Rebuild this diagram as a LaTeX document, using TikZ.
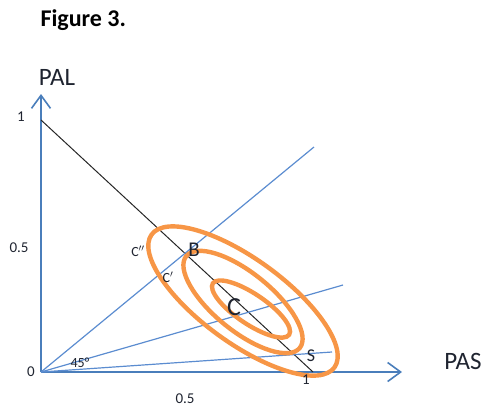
\documentclass[tikz,border=0pt]{standalone}
\usepackage{fontspec}
\setmainfont{Carlito}
\usetikzlibrary{arrows.meta}
\definecolor{axisblue}{HTML}{4A7EBB}
\definecolor{rayblue}{HTML}{5B8CD0}
\definecolor{ring}{HTML}{F79646}
\definecolor{ink}{HTML}{1F2430}

\begin{document}
\begin{tikzpicture}[
  x=1pt,y=-1pt,
  axis/.style={draw=axisblue,line width=1.8pt,-{Straight Barb[length=13pt,width=19pt,line width=1.6pt]}},
  ray/.style={draw=rayblue,line width=1.2pt},
  budget/.style={draw=black!85,line width=1pt},
  contour/.style={draw=ring,line width=4.4pt},
  tick/.style={font=\fontsize{15}{15}\selectfont,text=ink},
  pt/.style={font=\fontsize{14}{14}\selectfont,text=ink}
]
\useasboundingbox (0,0) rectangle (484,408);

% axes
\coordinate (O) at (41,372);
\coordinate (ytip) at (41,94);
\coordinate (xtip) at (402,372);
\draw[axis] (O) -- (ytip);
\draw[axis] (O) -- (xtip);

% budget line and rays from the origin
\coordinate (top) at (41,120);
\coordinate (bot) at (313,372);
\coordinate (r45) at (314,147);
\coordinate (rmid) at (343,285);
\coordinate (rlow) at (332,352);
\draw[budget] (top) -- (bot);
\draw[ray] (O) -- (r45);
\draw[ray] (O) -- (rmid);
\draw[ray] (O) -- (rlow);

% indifference contours
\coordinate (e1) at (243,301);
\coordinate (e2) at (243,302);
\coordinate (e3) at (251,309);
\draw[contour,rotate around={-36:(e1)}] (e1) ellipse [x radius=113,y radius=42];
\draw[contour,rotate around={-39:(e2)}] (e2) ellipse [x radius=73,y radius=29];
\draw[contour,rotate around={-34:(e3)}] (e3) ellipse [x radius=46,y radius=15];

% labels
\node[anchor=west,font=\fontsize{24}{24}\selectfont\bfseries] (title) at (37,20) {Figure 3.};
\node[font=\fontsize{25}{25}\selectfont,text=ink] (pal) at (57,77) {PAL};
\node[font=\fontsize{25}{25}\selectfont,text=ink] (pas) at (463,361) {PAS};
\node[tick] (y1) at (21,117) {1};
\node[tick] (y05) at (19,248) {0.5};
\node[tick] (y0) at (31,372) {0};
\node[tick] (x05) at (185,399) {0.5};
\node[tick] (x1) at (306,380) {1};
\node[pt] (a45) at (80,363) {45°};
\node[pt] (cpp) at (138,251) {C$''$};
\node[pt] (cp) at (168,277) {C$'$};
\node[font=\fontsize{21}{21}\selectfont,text=ink] (B) at (194,250) {B};
\node[font=\fontsize{26}{26}\selectfont,text=ink] (C) at (234,307) {C};
\node[font=\fontsize{18}{18}\selectfont,text=ink] (S) at (311,356) {S};
\end{tikzpicture}
\end{document}
